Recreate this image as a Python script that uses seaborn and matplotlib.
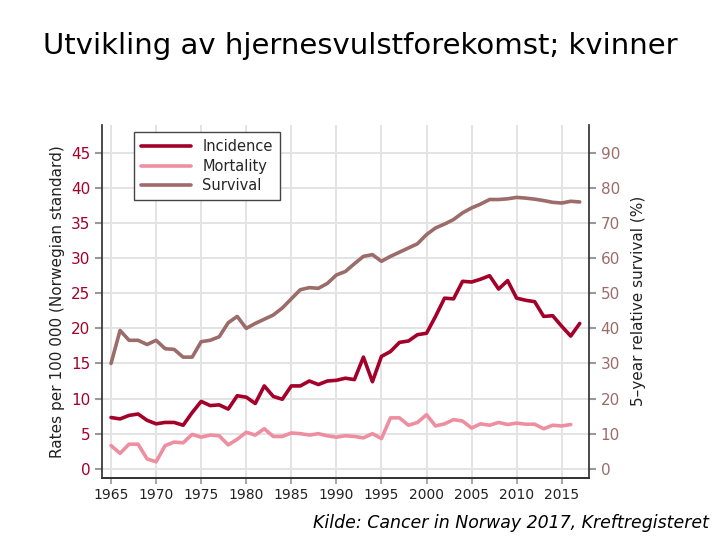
import numpy as np
import pandas as pd
import matplotlib
matplotlib.use("Agg")
import matplotlib.pyplot as plt
import seaborn as sns

# ── data ───────────────────────────────────────────────────────────────────────
years = list(range(1965, 2018))

incidence = [7.3, 7.1, 7.6, 7.8, 6.9, 6.4, 6.6, 6.6, 6.2, 8.0,
             9.6, 9.0, 9.1, 8.5, 10.4, 10.2, 9.3, 11.8, 10.3, 9.9,
             11.8, 11.8, 12.5, 12.0, 12.5, 12.6, 12.9, 12.7, 15.9, 12.4,
             16.0, 16.7, 18.0, 18.2, 19.1, 19.3, 21.7, 24.3, 24.2, 26.7,
             26.6, 27.0, 27.5, 25.6, 26.8, 24.3, 24.0, 23.8, 21.7, 21.8,
             20.3, 18.9, 20.7]

mortality = [3.3, 2.2, 3.5, 3.5, 1.4, 1.0, 3.3, 3.8, 3.7, 4.9,
             4.5, 4.8, 4.7, 3.4, 4.2, 5.2, 4.8, 5.7, 4.6, 4.6,
             5.1, 5.0, 4.8, 5.0, 4.7, 4.5, 4.7, 4.6, 4.4, 5.0,
             4.3, 7.25, 7.25, 6.2, 6.6, 7.7, 6.1, 6.4, 7.0, 6.8,
             5.8, 6.4, 6.2, 6.6, 6.3, 6.5, 6.35, 6.35, 5.7, 6.2,
             6.1, 6.3]                       # ends 2016

survival = [30.0, 39.4, 36.6, 36.6, 35.4, 36.6, 34.2, 34.0, 31.8, 31.8,
            36.2, 36.6, 37.6, 41.6, 43.4, 40.0, 41.4, 42.6, 43.8, 45.8,
            48.4, 51.0, 51.6, 51.4, 52.8, 55.2, 56.2, 58.4, 60.5, 61.0,
            59.1, 60.5, 61.7, 62.9, 64.1, 66.7, 68.6, 69.7, 71.0, 72.9,
            74.3, 75.4, 76.7, 76.7, 76.9, 77.3, 77.1, 76.8, 76.4, 75.9,
            75.7, 76.2, 76.0]

rate_ticks = [0, 5, 10, 15, 20, 25, 30, 35, 40, 45]
surv_ticks = [0, 10, 20, 30, 40, 50, 60, 70, 80, 90]
year_ticks = list(range(1965, 2016, 5))

C_INC = "#a3002a"
C_MORT = "#ee8ea1"
C_SURV = "#9b6c69"

rates = pd.DataFrame({"year": years, "Incidence": incidence})
mort = pd.DataFrame({"year": years[:len(mortality)], "Mortality": mortality})
surv = pd.DataFrame({"year": years[:len(survival)], "Survival": survival})

sns.set_theme(style="whitegrid")
plt.rcParams["font.family"] = ["DejaVu Sans"]

fig = plt.figure(figsize=(7.2, 5.4), dpi=100)
ax = fig.add_axes([0.1417, 0.115, 0.676, 0.654])
ax2 = ax.twinx()

sns.lineplot(data=rates, x="year", y="Incidence", ax=ax, color=C_INC, lw=2.6)
sns.lineplot(data=mort, x="year", y="Mortality", ax=ax, color=C_MORT, lw=2.6)
sns.lineplot(data=surv, x="year", y="Survival", ax=ax2, color=C_SURV, lw=2.6)

ax.set_xlim(1964.0, 2018.0)
ax.set_ylim(-1.3, 49.0)
ax2.set_ylim(-2.6, 98.0)
ax.set_xticks(year_ticks)
ax.set_yticks(rate_ticks)
ax2.set_yticks(surv_ticks)

ax.grid(True, color="#e3e3e3", lw=1.4)
ax2.grid(False)
ax.set_facecolor("white")

for a in (ax, ax2):
    for s in a.spines.values():
        s.set_visible(False)
    a.spines["bottom"].set_visible(True)
    a.spines["bottom"].set_color("#333333")
ax.spines["left"].set_visible(True)
ax.spines["left"].set_color("#333333")
ax2.spines["right"].set_visible(True)
ax2.spines["right"].set_color("#333333")

ax.tick_params(axis="y", colors="#999999", labelcolor=C_INC, labelsize=11,
               length=5, width=1.5, direction="out", left=True)
ax.tick_params(axis="x", colors="#999999", labelcolor="#222222", labelsize=10,
               length=4, width=1.2, direction="out", bottom=True)
ax2.tick_params(axis="y", colors="#999999", labelcolor=C_SURV, labelsize=11,
                length=5, width=1.5, direction="out", right=True)

ax.set_xlabel("")
ax.set_ylabel("Rates per 100 000 (Norwegian standard)", fontsize=11,
              color="#222222")
ax2.set_ylabel("5\u2013year relative survival (%)", fontsize=11,
               color="#222222", rotation=90, labelpad=8)

handles = [ax.lines[0], ax.lines[1], ax2.lines[0]]
leg = ax.legend(handles, ["Incidence", "Mortality", "Survival"],
                loc="upper left", bbox_to_anchor=(0.05, 1.0),
                frameon=True, fancybox=False, fontsize=10.5,
                handlelength=3.4, borderpad=0.5, labelspacing=0.3)
leg.get_frame().set_edgecolor("#444444")
leg.get_frame().set_linewidth(1.0)
leg.get_frame().set_alpha(1)

fig.text(0.5, 0.915, "Utvikling av hjernesvulstforekomst; kvinner",
         ha="center", va="center", fontsize=21, color="black")
fig.text(0.985, 0.015, "Kilde: Cancer in Norway 2017, Kreftregisteret",
         ha="right", va="bottom", fontsize=12.5, style="italic", color="black")

fig.savefig("out.png", dpi=100)
